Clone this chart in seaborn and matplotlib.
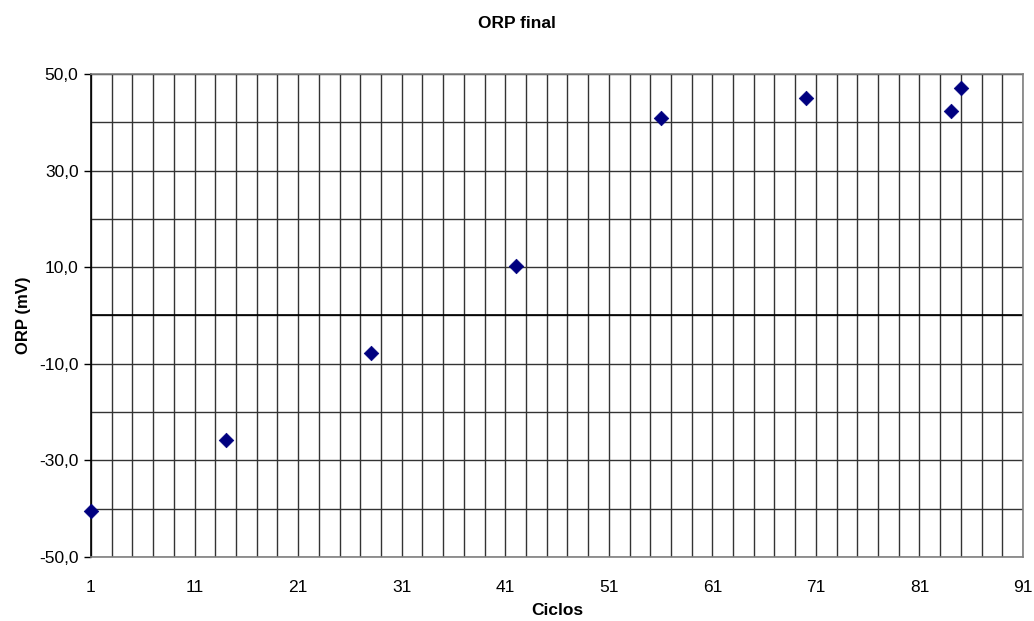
import matplotlib
matplotlib.use("Agg")
import matplotlib.pyplot as plt
import seaborn as sns
import numpy as np
import pandas as pd
from matplotlib.ticker import FuncFormatter, FixedLocator

ciclos = [1, 14, 28, 42, 56, 70, 84, 85]
orp = [-40.5, -25.7, -7.7, 10.3, 40.8, 45.1, 42.3, 47.1]
x_ticks = [1, 11, 21, 31, 41, 51, 61, 71, 81, 91]
y_ticks = [-50, -30, -10, 10, 30, 50]

sns.set_style("white")
plt.rcParams['font.family'] = ['Liberation Sans', 'DejaVu Sans']
plt.rcParams['text.color'] = 'black'
plt.rcParams['axes.labelcolor'] = 'black'
plt.rcParams['xtick.color'] = 'black'
plt.rcParams['ytick.color'] = 'black'

fig = plt.figure(figsize=(10.34, 6.21), dpi=100)
ax = fig.add_axes([0.088, 0.1031, 0.9014, 0.7777])

df = pd.DataFrame({"Ciclos": ciclos, "ORP": orp})

ax.set_xlim(1, 91)
ax.set_ylim(-50, 50)

ax.xaxis.set_major_locator(FixedLocator(x_ticks))
ax.xaxis.set_minor_locator(FixedLocator(np.arange(1, 92, 2)))
ax.yaxis.set_major_locator(FixedLocator(y_ticks))
ax.yaxis.set_minor_locator(FixedLocator(np.arange(-50, 51, 10)))
ax.grid(True, which="both", axis="both", color="#333333", linewidth=1.0)
ax.set_axisbelow(True)
ax.axhline(0, color="black", linewidth=1.2, zorder=1)

sns.scatterplot(data=df, x="Ciclos", y="ORP", ax=ax, marker="D", s=55,
                color="#000080", edgecolor="#000080", linewidth=0.5, zorder=3, clip_on=False)

fmt = FuncFormatter(lambda v, p: f"{v:.1f}".replace(".", ","))
ax.yaxis.set_major_formatter(fmt)
ax.xaxis.set_major_formatter(FuncFormatter(lambda v, p: f"{int(v)}"))

ax.tick_params(axis="y", which="major", left=True, length=5, width=1, color="black",
               labelcolor="black", labelsize=12.5, pad=4)
ax.tick_params(axis="y", which="minor", left=False)
ax.tick_params(axis="x", which="both", bottom=False, labelcolor="black", labelsize=12.5, pad=13)

for side in ["top", "right", "bottom"]:
    ax.spines[side].set_color("#808080")
    ax.spines[side].set_linewidth(1.2)
ax.spines["left"].set_color("black")
ax.spines["left"].set_linewidth(1.2)

ax.set_xlabel("Ciclos", fontsize=12.5, fontweight="bold", labelpad=6, color="black")
ax.set_ylabel("ORP (mV)", fontsize=12, fontweight="bold", labelpad=6, color="black")
fig.suptitle("ORP final", fontsize=12.5, fontweight="bold", y=0.975, color="black")

fig.savefig("out.png", dpi=100)
